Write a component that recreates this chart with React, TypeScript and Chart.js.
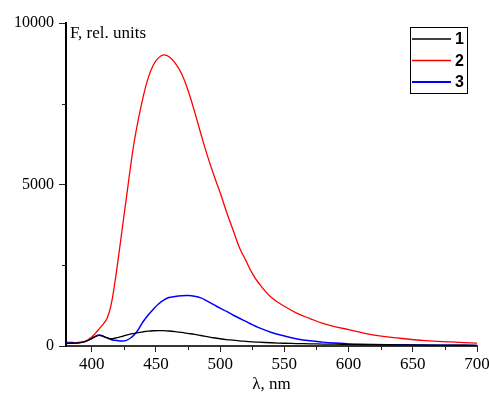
import React, { useEffect, useRef } from "react";
import { Chart, registerables } from "chart.js";

Chart.register(...registerables);

const wavelengths = [
  380, 385, 390, 395, 400, 403, 406, 409, 412, 415, 418, 421, 424, 427, 430, 433, 436, 440, 444, 448,
  452, 456, 460, 465, 470, 475, 480, 485, 490, 495, 500, 505, 510, 515, 520, 525, 530, 540, 550, 560,
  570, 580, 590, 600, 620, 640, 660, 680, 700,
];

const series1 = [
  80, 85, 95, 140, 230, 300, 330, 300, 255, 225, 240, 270, 300, 340, 370, 390, 415, 440, 460, 472,
  478, 475, 465, 445, 420, 390, 360, 325, 290, 255, 225, 200, 180, 160, 145, 130, 118, 100, 85, 75,
  68, 60, 55, 50, 42, 35, 30, 25, 20,
];

const series2 = [
  80, 85, 100, 140, 280, 400, 540, 680, 860, 1250, 1950, 2800, 3700, 4580, 5480, 6300, 6950, 7700, 8300, 8700,
  8920, 9010, 8960, 8760, 8430, 7920, 7270, 6570, 5900, 5300, 4750, 4150, 3600, 3050, 2650, 2250, 1950, 1500, 1230, 1010,
  850, 700, 590, 510, 340, 240, 165, 125, 90,
];

const series3 = [
  110, 105, 105, 140, 230, 300, 340, 300, 250, 200, 175, 160, 155, 175, 240, 340, 490, 750, 960, 1140,
  1300, 1420, 1500, 1535, 1555, 1560, 1540, 1490, 1390, 1280, 1170, 1070, 960, 860, 760, 660, 570, 420, 310, 220,
  160, 120, 90, 65, 45, 35, 28, 22, 18,
];

const seriesLabels = ["1", "2", "3"];
const seriesColors = ["#000000", "#ff0000", "#0000ff"];
const xMinorTicks = [425, 475, 525, 575, 625, 675];
const yMinorTicks = [2500, 7500];

const SERIF = "'Liberation Serif', 'Times New Roman', serif";

export default function App() {
  const ref = useRef<HTMLCanvasElement | null>(null);

  useEffect(() => {
    const canvas = ref.current;
    if (!canvas) return;

    const toPts = (arr: number[]) => arr.map((v, i) => ({ x: wavelengths[i], y: v }));

    const decorPlugin = {
      id: "decor",
      afterDraw(chart: any) {
        const ctx = chart.ctx;
        const area = chart.chartArea;
        const xs = chart.scales.x;
        const ys = chart.scales.y;
        ctx.save();
        // minor ticks
        ctx.strokeStyle = "#222";
        ctx.lineWidth = 1;
        ctx.beginPath();
        xMinorTicks.forEach((v) => {
          const px = Math.round(xs.getPixelForValue(v)) + 0.5;
          ctx.moveTo(px, area.bottom);
          ctx.lineTo(px, area.bottom + 4);
        });
        yMinorTicks.forEach((v) => {
          const py = Math.round(ys.getPixelForValue(v)) + 0.5;
          ctx.moveTo(area.left, py);
          ctx.lineTo(area.left - 4, py);
        });
        ctx.stroke();

        // y axis title inside plot
        ctx.fillStyle = "#000";
        ctx.font = `17px ${SERIF}`;
        ctx.textAlign = "left";
        ctx.textBaseline = "alphabetic";
        ctx.fillText("F, rel. units", area.left + 4, area.top + 15);

        // legend box
        const bx = area.right - 67;
        const by = area.top + 4;
        const bw = 57;
        const bh = 66;
        ctx.fillStyle = "#fff";
        ctx.fillRect(bx, by, bw, bh);
        ctx.strokeStyle = "#000";
        ctx.lineWidth = 1;
        ctx.strokeRect(bx + 0.5, by + 0.5, bw, bh);
        const rows = [12, 33.5, 55];
        ctx.font = "bold 16px 'Liberation Sans', Arial, sans-serif";
        ctx.textBaseline = "middle";
        seriesLabels.forEach((lab, i) => {
          const y = by + rows[i];
          ctx.strokeStyle = seriesColors[i];
          ctx.lineWidth = i === 2 ? 1.8 : 1.3;
          ctx.beginPath();
          ctx.moveTo(bx + 2, y);
          ctx.lineTo(bx + 41, y);
          ctx.stroke();
          ctx.fillStyle = "#000";
          ctx.fillText(lab, bx + 45, y + 1);
        });
        ctx.restore();
      },
    };

    const chart = new Chart(canvas, {
      type: "line",
      data: {
        datasets: [series1, series2, series3].map((s, i) => ({
          label: seriesLabels[i],
          data: toPts(s),
          borderColor: seriesColors[i],
          backgroundColor: seriesColors[i],
          borderWidth: i === 2 ? 1.5 : 1.3,
          pointRadius: 0,
          tension: 0.4,
          fill: false,
        })),
      },
      options: {
        responsive: false,
        animation: false,
        layout: { padding: { top: 23, right: 12, left: 0, bottom: 0 } },
        plugins: {
          legend: { display: false },
          tooltip: { enabled: false },
        },
        scales: {
          x: {
            type: "linear",
            min: 380,
            max: 700,
            afterFit: (s: any) => {
              s.height = 50;
              s.paddingLeft = 0;
              s.paddingRight = 0;
            },
            ticks: {
              stepSize: 50,
              includeBounds: false,
              color: "#000",
              font: { family: SERIF, size: 17 },
              padding: 2,
              maxRotation: 0,
              callback: (v: any) => String(v),
            },
            grid: {
              drawOnChartArea: false,
              drawTicks: true,
              tickLength: 6,
              color: "#222",
            },
            border: { color: "#333", width: 2 },
            title: {
              display: true,
              text: "λ, nm",
              color: "#000",
              font: { family: SERIF, size: 17 },
              padding: { top: 0, bottom: 1 },
            },
          },
          y: {
            type: "linear",
            min: 0,
            max: 10000,
            afterFit: (s: any) => {
              s.width = 66;
              s.paddingTop = 0;
              s.paddingBottom = 0;
            },
            ticks: {
              stepSize: 5000,
              includeBounds: false,
              color: "#000",
              font: { family: SERIF, size: 16 },
              padding: 5,
              callback: (v: any) => String(v),
            },
            grid: {
              drawOnChartArea: false,
              drawTicks: true,
              tickLength: 7,
              color: "#222",
            },
            border: { color: "#000", width: 2 },
          },
        },
      },
      plugins: [decorPlugin],
    });

    return () => chart.destroy();
  }, []);

  return (
    <div style={{ position: "absolute", left: 0, top: 0, width: 489, height: 396, background: "#fff" }}>
      <canvas ref={ref} width={489} height={396} style={{ display: "block", width: 489, height: 396 }} />
    </div>
  );
}
